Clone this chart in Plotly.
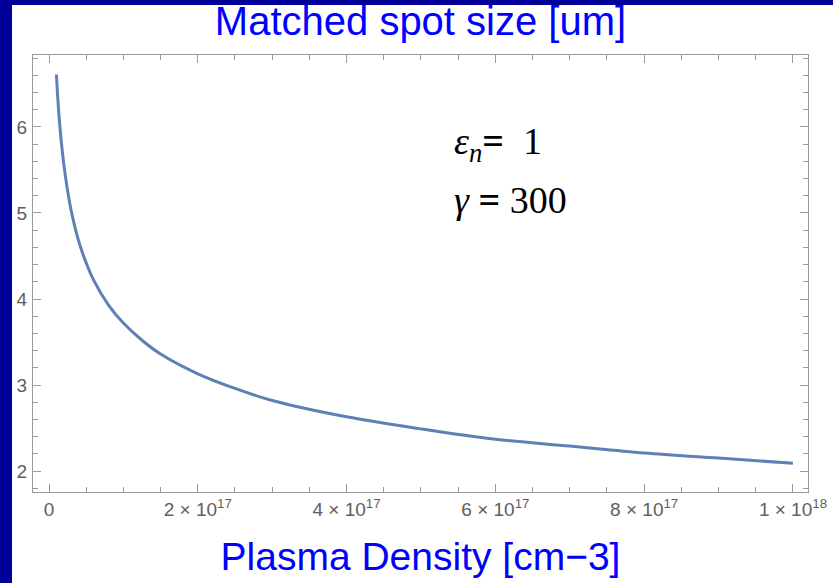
import plotly.graph_objects as go

# Data
density_cm3 = [1.0e16, 1.2e16, 1.5e16, 2.0e16, 2.5e16, 3.0e16, 4.0e16, 5.0e16, 6.0e16, 8.0e16,
               1.0e17, 1.25e17, 1.5e17, 2.0e17, 2.5e17, 3.0e17, 4.0e17, 5.0e17, 6.0e17, 7.0e17,
               8.0e17, 9.0e17, 1.0e18]
spot_um = [6.61, 6.31, 5.97, 5.56, 5.26, 5.02, 4.67, 4.42, 4.22, 3.93,
           3.72, 3.52, 3.36, 3.13, 2.96, 2.82, 2.63, 2.49, 2.37, 2.29,
           2.21, 2.15, 2.09]

x_tickvals = [0, 2e17, 4e17, 6e17, 8e17, 1e18]
x_ticktext = ["0", "2 × 10<sup>17</sup>", "4 × 10<sup>17</sup>", "6 × 10<sup>17</sup>",
              "8 × 10<sup>17</sup>", "1 × 10<sup>18</sup>"]

W, H = 833, 583
ML, MR, MT, MB = 33, 25, 55, 91
PW = W - ML - MR
PH = H - MT - MB

def px_x(p):
    return (p - ML) / PW

def px_y(p):
    return (H - MB - p) / PH

NAVY = "#000099"
AXC = "#9a9a9a"
LBL = "#606060"

fig = go.Figure()
fig.add_trace(go.Scatter(
    x=density_cm3, y=spot_um, mode="lines",
    line=dict(color="#5E81B5", width=3, shape="spline"),
    showlegend=False, hoverinfo="skip"))

fig.update_layout(
    width=W, height=H,
    margin=dict(l=ML, r=MR, t=MT, b=MB, autoexpand=False),
    paper_bgcolor="white", plot_bgcolor="white",
    font=dict(family="Liberation Sans, Arial, sans-serif"),
    title=dict(text="Matched spot size [um]", x=0.5, xref="paper", xanchor="center",
               y=0.988, yref="container", yanchor="top",
               font=dict(size=40, color="#0000FF")),
    xaxis=dict(
        range=[-2.15e16, 1.0202e18],
        tickmode="array", tickvals=x_tickvals, ticktext=x_ticktext,
        ticks="inside", ticklen=8, tickcolor=AXC, tickwidth=1,
        showline=True, linecolor=AXC, linewidth=1, mirror="ticks",
        showgrid=False, zeroline=False, automargin=False,
        tickfont=dict(size=19, color=LBL),
        minor=dict(tickmode="linear", tick0=0, dtick=5e16, ticks="inside", ticklen=5,
                   tickcolor=AXC, showgrid=False),
        title=dict(text="Plasma Density [cm\u22123]", font=dict(size=39, color="#0000FF"),
                   standoff=23),
    ),
    yaxis=dict(
        range=[1.756, 6.837],
        tickmode="linear", tick0=0, dtick=1,
        ticks="inside", ticklen=8, tickcolor=AXC, tickwidth=1,
        showline=True, linecolor=AXC, linewidth=1, mirror="ticks",
        showgrid=False, zeroline=False, automargin=False,
        tickfont=dict(size=19, color=LBL),
        ticklabelstandoff=1,
        minor=dict(tickmode="linear", tick0=0, dtick=0.2, ticks="inside", ticklen=5,
                   tickcolor=AXC, showgrid=False),
    ),
)

# navy frame strips (left and top)
fig.add_shape(type="rect", xref="paper", yref="paper",
              x0=px_x(0), x1=px_x(12), y0=px_y(H), y1=px_y(0),
              fillcolor=NAVY, line=dict(width=0), layer="above")
fig.add_shape(type="rect", xref="paper", yref="paper",
              x0=px_x(0), x1=px_x(W), y0=px_y(5), y1=px_y(0),
              fillcolor=NAVY, line=dict(width=0), layer="above")

fig.add_annotation(xref="paper", yref="paper", x=px_x(452), y=px_y(144),
                   xanchor="left", yanchor="middle", showarrow=False,
                   text="<i>ε</i><sub><i>n</i></sub><b>=</b>\u00a0\u00a01",
                   font=dict(family="Liberation Serif, Times New Roman, serif", size=38, color="black"))
fig.add_annotation(xref="paper", yref="paper", x=px_x(452), y=px_y(200),
                   xanchor="left", yanchor="middle", showarrow=False,
                   text="<i>γ</i> <b>=</b> 300",
                   font=dict(family="Liberation Serif, Times New Roman, serif", size=38, color="black"))

fig.write_html("out.html")
